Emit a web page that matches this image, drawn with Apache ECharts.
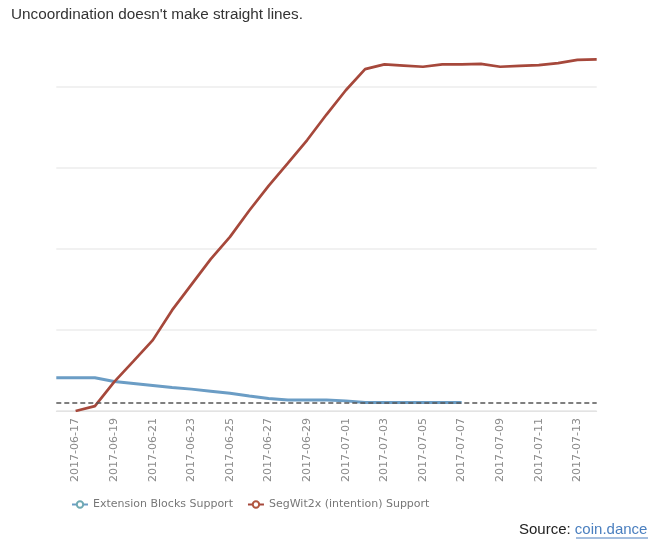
<!DOCTYPE html>
<html>
<head>
<meta charset="utf-8">
<script src="https://cdn.jsdelivr.net/npm/echarts@6/dist/echarts.min.js"></script>
<style>html,body{margin:0;padding:0;background:#fff;}#c{width:658px;height:545px;}</style>
</head>
<body>
<div id="c"></div>
<script>
var dates = ['2017-06-16','2017-06-17','2017-06-18','2017-06-19','2017-06-20','2017-06-21','2017-06-22','2017-06-23','2017-06-24','2017-06-25','2017-06-26','2017-06-27','2017-06-28','2017-06-29','2017-06-30','2017-07-01','2017-07-02','2017-07-03','2017-07-04','2017-07-05','2017-07-06','2017-07-07','2017-07-08','2017-07-09','2017-07-10','2017-07-11','2017-07-12','2017-07-13','2017-07-14'];
var extensionBlocks = [8.2,8.2,8.2,7.3,6.8,6.3,5.8,5.4,4.9,4.4,3.7,3.1,2.7,2.7,2.7,2.5,2.1,2.1,2.1,2.1,2.1,2.1,null,null,null,null,null,null,null];
var segwit2x = [null,0,1.2,7.2,12.3,17.5,24.9,31.2,37.5,43,49.5,55.6,61.2,66.9,73.2,79.2,84.4,85.6,85.3,85.0,85.6,85.6,85.7,85.0,85.2,85.4,85.9,86.7,86.8];
var thresholdValue = 2.0;
var seriesNames = ['Extension Blocks Support','SegWit2x (intention) Support'];

var chart = echarts.init(document.getElementById('c'));
chart.setOption({
  animation: false,
  backgroundColor: '#fff',
  title: {
    text: "Uncoordination doesn't make straight lines.",
    left: 6, top: 2,
    textStyle: {fontFamily: 'Liberation Sans, Arial, sans-serif', fontSize: 15.3, fontWeight: 'normal', color: '#333'}
  },
  grid: {left: 56.3, right: 61.3, top: 46.5, bottom: 134},
  legend: {
    data: seriesNames,
    left: 66, top: 494,
    itemWidth: 16, itemHeight: 8, itemGap: 14,
    textStyle: {fontFamily: 'DejaVu Sans', fontSize: 11, color: '#777'}
  },
  xAxis: {
    type: 'category',
    data: dates,
    boundaryGap: false,
    axisLine: {show: true, lineStyle: {color: '#e3e3e3', width: 1}},
    axisTick: {show: false},
    axisLabel: {
      rotate: 90,
      interval: function (i) { return i % 2 === 1; },
      fontFamily: 'DejaVu Sans', fontSize: 11, color: '#8a8a8a', margin: 7
    },
    splitLine: {show: false}
  },
  yAxis: {
    type: 'value',
    min: 0, max: 90, interval: 20,
    axisLine: {show: false},
    axisTick: {show: false},
    axisLabel: {show: false},
    splitLine: {show: true, lineStyle: {color: ['#e6e6e6','#ececec','#ececec','#ececec','#ececec','rgba(0,0,0,0)'], width: 1.5}}
  },
  series: [
    {
      name: seriesNames[0],
      type: 'line',
      data: extensionBlocks,
      showSymbol: false,
      symbol: 'emptyCircle',
      symbolSize: 6,
      connectNulls: false,
      lineStyle: {color: '#6b9dc5', width: 3},
      itemStyle: {color: '#6fa9b3'},
      z: 3,
      markLine: {
        silent: true,
        symbol: 'none',
        label: {show: false},
        lineStyle: {color: '#555', type: [5, 3], width: 1.5},
        data: [{yAxis: thresholdValue}]
      }
    },
    {
      name: seriesNames[1],
      type: 'line',
      data: segwit2x,
      showSymbol: false,
      symbol: 'emptyCircle',
      symbolSize: 6,
      lineStyle: {color: '#a6483b', width: 2.7},
      itemStyle: {color: '#b0563f'},
      z: 4
    }
  ],
  graphic: [
    {
      type: 'text', left: 519, top: 522,
      style: {
        text: '{a|Source: }{b|coin.dance}',
        rich: {
          a: {fontFamily: 'Liberation Sans, Arial', fontSize: 15, fill: '#222'},
          b: {fontFamily: 'Liberation Sans, Arial', fontSize: 15, fill: '#4a7fbf'}
        }
      }
    },
    {
      type: 'line', shape: {x1: 576, y1: 538, x2: 648, y2: 538},
      style: {stroke: '#4a7fbf', lineWidth: 1}
    }
  ]
});
</script>
</body>
</html>
